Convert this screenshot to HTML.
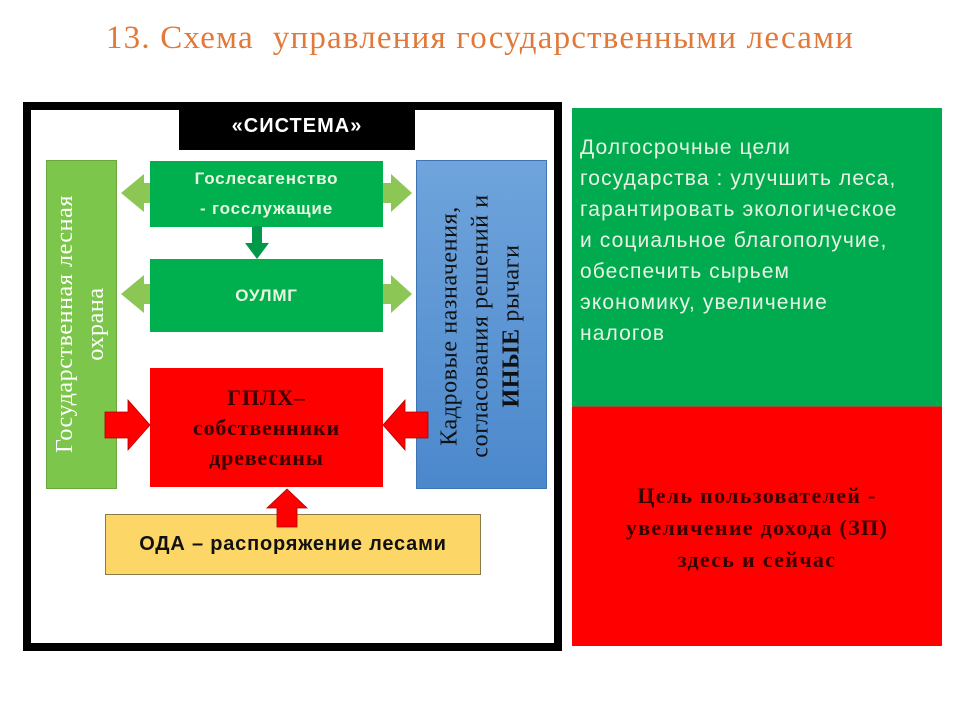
<!DOCTYPE html>
<html><head><meta charset="utf-8"><style>
body{margin:0;width:960px;height:720px;background:#fff;position:relative;overflow:hidden;font-family:"Liberation Sans",sans-serif}
.a{position:absolute;box-sizing:border-box}
.c{display:flex;align-items:center;justify-content:center;text-align:center}
</style></head><body>
<div class="a" style="left:0;top:20px;width:960px;text-align:center;font-family:'Liberation Serif',serif;font-size:33px;letter-spacing:1.2px;color:#e0793a;white-space:pre">13. Схема  управления государственными лесами</div>

<div class="a" style="left:23px;top:102px;width:539px;height:549px;border:8px solid #000"></div>
<div class="a c" style="left:179px;top:103px;width:236px;height:47px;background:#000;color:#fff;font-weight:bold;font-size:20px;letter-spacing:1px">«СИСТЕМА»</div>

<div class="a" style="left:46px;top:160px;width:71px;height:329px;background:#7cc64b;border:1px solid #6aa83e"></div>
<div class="a" style="left:81px;top:324px;width:0;height:0"><div style="position:absolute;transform:translate(-50%,-50%) rotate(-90deg);white-space:nowrap;font-family:'Liberation Serif',serif;font-size:24px;letter-spacing:0.6px;color:#fff;text-align:center;line-height:31px">Государственная лесная<br>охрана</div></div>

<div class="a" style="left:416px;top:160px;width:131px;height:329px;background:linear-gradient(#6fa4dc,#4b88cc);border:1px solid #3e74b4"></div>
<div class="a" style="left:481px;top:326px;width:0;height:0"><div style="position:absolute;transform:translate(-50%,-50%) rotate(-90deg);white-space:nowrap;font-family:'Liberation Serif',serif;font-size:24px;letter-spacing:0.6px;color:#111;text-align:center;line-height:31px">Кадровые назначения,<br>согласования решений и<br><b>ИНЫЕ</b> рычаги</div></div>

<div class="a c" style="left:150px;top:161px;width:233px;height:66px;background:#00b04e;color:#e8f5e0;font-weight:bold;font-size:17px;letter-spacing:0.8px;line-height:30px">Гослесагенство<br>- госслужащие</div>
<div class="a c" style="left:150px;top:259px;width:233px;height:73px;background:#00b04e;color:#e8f5e0;font-weight:bold;font-size:17px;letter-spacing:0.8px">ОУЛМГ</div>
<div class="a c" style="left:150px;top:368px;width:233px;height:119px;background:#f00;color:#3a0000;font-weight:bold;font-size:22px;letter-spacing:0.8px;font-family:'Liberation Serif',serif;line-height:30px">ГПЛХ–<br>собственники<br>древесины</div>

<div class="a c" style="left:105px;top:514px;width:376px;height:61px;background:#fcd667;border:1px solid #8a7a4a;color:#111;font-weight:bold;font-size:20px;letter-spacing:0.8px">ОДА – распоряжение лесами</div>

<svg class="a" style="left:0;top:0" width="960" height="720">
<g fill="#8cc756">
<polygon points="121,193 144,174 144,183 150,183 150,203 144,203 144,212"/>
<polygon points="121,294 144,275 144,284 150,284 150,304 144,304 144,313"/>
<polygon points="412,193 391,174 391,183 383,183 383,203 391,203 391,212"/>
<polygon points="412,294 391,275 391,284 383,284 383,304 391,304 391,313"/>
</g>
<polygon fill="#00994a" points="252,226 262,226 262,243 269,243 257,259 245,243 252,243"/>
<g fill="#f00" stroke="#b00000" stroke-width="0.8">
<polygon points="105,412 128,412 128,400 150,425 128,450 128,438 105,438"/>
<polygon points="428,412 405,412 405,400 383,425 405,450 405,438 428,438"/>
<polygon points="277,527 277,508 267,508 287,489 307,508 297,508 297,527"/>
</g>
</svg>

<div class="a" style="left:572px;top:108px;width:370px;height:298px;background:#00ab50"></div>
<div class="a" style="left:572px;top:406px;width:370px;height:240px;background:#f00;border-top:1px solid #8a5a3a"></div>
<div class="a" style="left:580px;top:132px;width:362px;font-size:21px;letter-spacing:1.1px;line-height:31px;color:#e9f3e4;white-space:nowrap">Долгосрочные цели<br>государства : улучшить леса,<br>гарантировать экологическое<br>и социальное благополучие,<br>обеспечить сырьем<br>экономику, увеличение<br>налогов</div>
<div class="a" style="left:572px;top:480px;width:370px;text-align:center;font-family:'Liberation Serif',serif;font-weight:bold;font-size:22px;letter-spacing:1.3px;line-height:32px;color:#3a0000;white-space:nowrap">Цель пользователей -<br>увеличение дохода (ЗП)<br>здесь и сейчас</div>
</body></html>
